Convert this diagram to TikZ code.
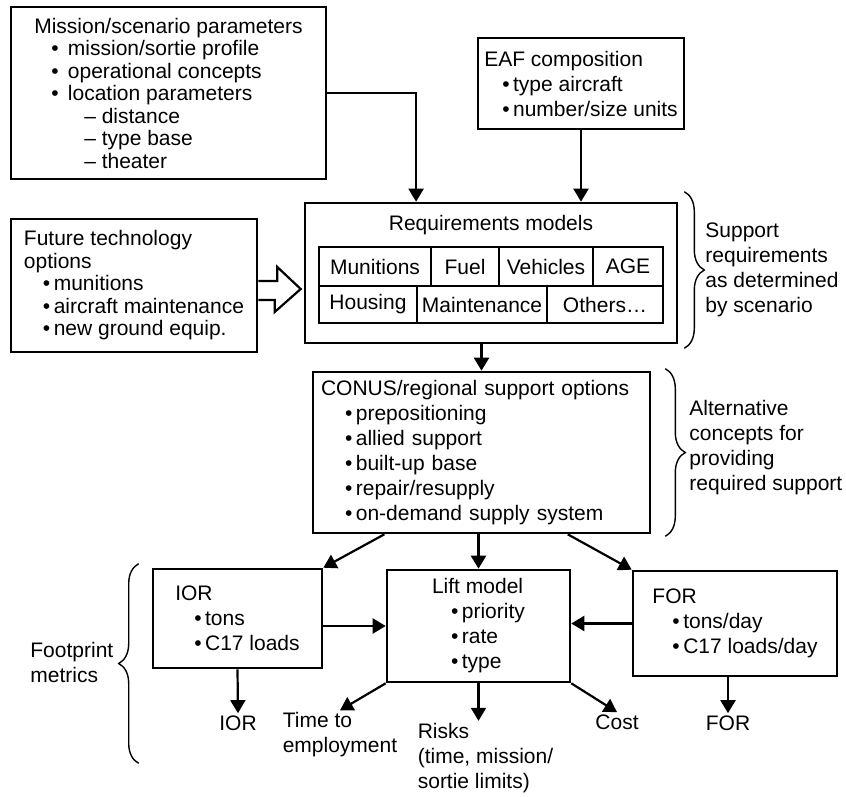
\documentclass[tikz,border=0pt]{standalone}
\usepackage{fontspec}
\setmainfont{Liberation Sans}
\usetikzlibrary{positioning, arrows.meta, calc}
\usetikzlibrary{decorations.pathreplacing}
\newcommand{\itm}[1][9.5pt]{\hspace*{#1}\textbullet\,\ignorespaces}
\newcommand{\dsh}{\hspace*{25pt}–\ \ignorespaces}
\tikzset{
  font=\fontsize{10.5}{12.5}\selectfont,
  box/.style={draw, line width=1.3pt, inner sep=0pt, align=left},
  tight/.style={font=\fontsize{10.5}{11.25}\selectfont},
  cell/.style={draw, line width=1.2pt, inner sep=0pt},
  lab/.style={inner sep=1pt, align=left},
  arr/.style={-{Triangle[length=6.5pt,width=7.5pt]}, line width=1.1pt},
  sbrace/.style={decorate, decoration={brace, amplitude=10pt}, line width=0.7pt}
}

\begin{document}
\begin{tikzpicture}[x=0.5pt, y=-0.5pt]
    \useasboundingbox (0,0) rectangle (846,797);

    % input boxes
    \node[box, tight, minimum width=157.5pt, minimum height=86pt] (mission) at (168.5,93) {Mission/scenario parameters\\
      \itm[8.5pt]\ mission/sortie profile\\
      \itm[8.5pt]\ operational concepts\\
      \itm[8.5pt]\ location parameters\\
      \dsh distance\\
      \dsh type base\\
      \dsh theater};
    \node[box, minimum width=103pt, minimum height=45.5pt] (eaf) at (581,83.5) {EAF composition\\
      \itm[9pt] type aircraft\\
      \itm[9pt] number/size units};
    \node[box, tight, minimum width=123pt, minimum height=66.5pt] (fut) at (134,285.5) {Future technology\\options\\
      \itm munitions\\
      \itm aircraft maintenance\\
      \itm new ground equip.};

    % requirements models
    \node[box, minimum width=186pt, minimum height=70pt] (req) at (491,273) {};
    \node (reqtitle) at (491,225) {Requirements models};
    \node[cell, minimum width=56pt, minimum height=19.5pt] (mun) at (375,266.5) {Munitions};
    \node[cell, minimum width=34pt, minimum height=19.5pt] (fuel) at (465,266.5) {Fuel};
    \node[cell, minimum width=47pt, minimum height=19.5pt] (veh) at (546,266.5) {Vehicles};
    \node[cell, minimum width=35pt, minimum height=19.5pt] (age) at (628,266.5) {AGE};
    \node[cell, minimum width=49pt, minimum height=18.5pt] (hous) at (368,304.5) {Housing};
    \node[cell, minimum width=65pt, minimum height=18.5pt] (maint) at (482,304.5) {Maintenance};
    \node[cell, minimum width=58pt, minimum height=18.5pt] (oth) at (605,304.5) {Others…};

    \node[box, text width=160.5pt, minimum width=168.5pt, minimum height=80.5pt] (conus) at (481.5,452.5) {CONUS/regional support options\\
      \itm[12pt] prepositioning\\
      \itm[12pt] allied support\\
      \itm[12pt] built-up base\\
      \itm[12pt] repair/resupply\\
      \itm[12pt] on-demand supply system};

    % footprint boxes
    \node[box, minimum width=84.5pt, minimum height=49.5pt] (ior) at (237.5,618.5) {IOR\\
      \itm tons\\
      \itm C17 loads};
    \node[box, minimum width=91.5pt, minimum height=56pt] (lift) at (478.5,626) {Lift model\\
      \itm priority\\
      \itm rate\\
      \itm type};
    \node[box, minimum width=102pt, minimum height=52.5pt] (for) at (735,623.5) {FOR\\
      \itm[10pt] tons/day\\
      \itm[10pt] C17 loads/day};

    % outputs
    \node[lab] (iorout) at (238,723) {IOR};
    \node[lab] (forout) at (728,723) {FOR};
    \node[lab] (time) at (340,735) {Time to\\employment};
    \node[lab] (risks) at (485.5,758) {Risks\\(time, mission/\\sortie limits)};
    \node[lab] (cost) at (617,722) {Cost};

    % side notes
    \node[lab, anchor=west, inner sep=0pt] (suplab) at (705,270) {Support\\requirements\\as determined\\by scenario};
    \node[lab, anchor=west, inner sep=0pt] (altlab) at (689,448) {Alternative\\concepts for\\providing\\required support};
    \node[lab, anchor=west, inner sep=0pt] (footlab) at (30,662) {Footprint\\metrics};

    \draw[sbrace] ($(req.north east)+(6,-10)$) -- ($(req.south east)+(6,4)$);
    \draw[sbrace] ($(conus.north east)+(14,-2)$) -- ($(conus.south east)+(14,2)$);
    \draw[sbrace] ($(ior.south west)+(-13,94)$) -- ($(ior.north west)+(-13,-4)$);

    % connectors
    \draw[arr] (mission.east) -| ($(req.north west)!0.3!(req.north east)$);
    \draw[arr] (eaf.south) -- (eaf.south |- req.north);
    \draw[line width=1.1pt] ($(fut.east)+(0,-4.5)$) -- ++(19,0) -- ++(0,-14)
      -- ($(req.west |- fut.east)+(-3,3.5)$) -- ++(-26,23) -- ++(0,-12) -- ($(fut.east)+(0,14.5)$);
    \draw[arr] (conus.north |- req.south) -- (conus.north);
    \draw[arr] ($(conus.south west)!0.214!(conus.south east)$) -- (ior.north east);
    \draw[arr] (lift.north |- conus.south) -- (lift.north);
    \draw[arr] ($(conus.south west)!0.754!(conus.south east)$) -- (for.north west);
    \draw[arr] (ior.east |- lift.west) -- (lift.west);
    \draw[arr] (for.west) -- (lift.east |- for.west);
    \draw[arr] (ior.south) -- (iorout.north);
    \draw[arr] (forout.north |- for.south) -- (forout.north);
    \draw[arr] (lift.south west) -- (time.north);
    \draw[arr] (lift.south) -- (lift.south |- risks.north);
    \draw[arr] (lift.south east) -- (cost.north);
  \end{tikzpicture}
\end{document}
